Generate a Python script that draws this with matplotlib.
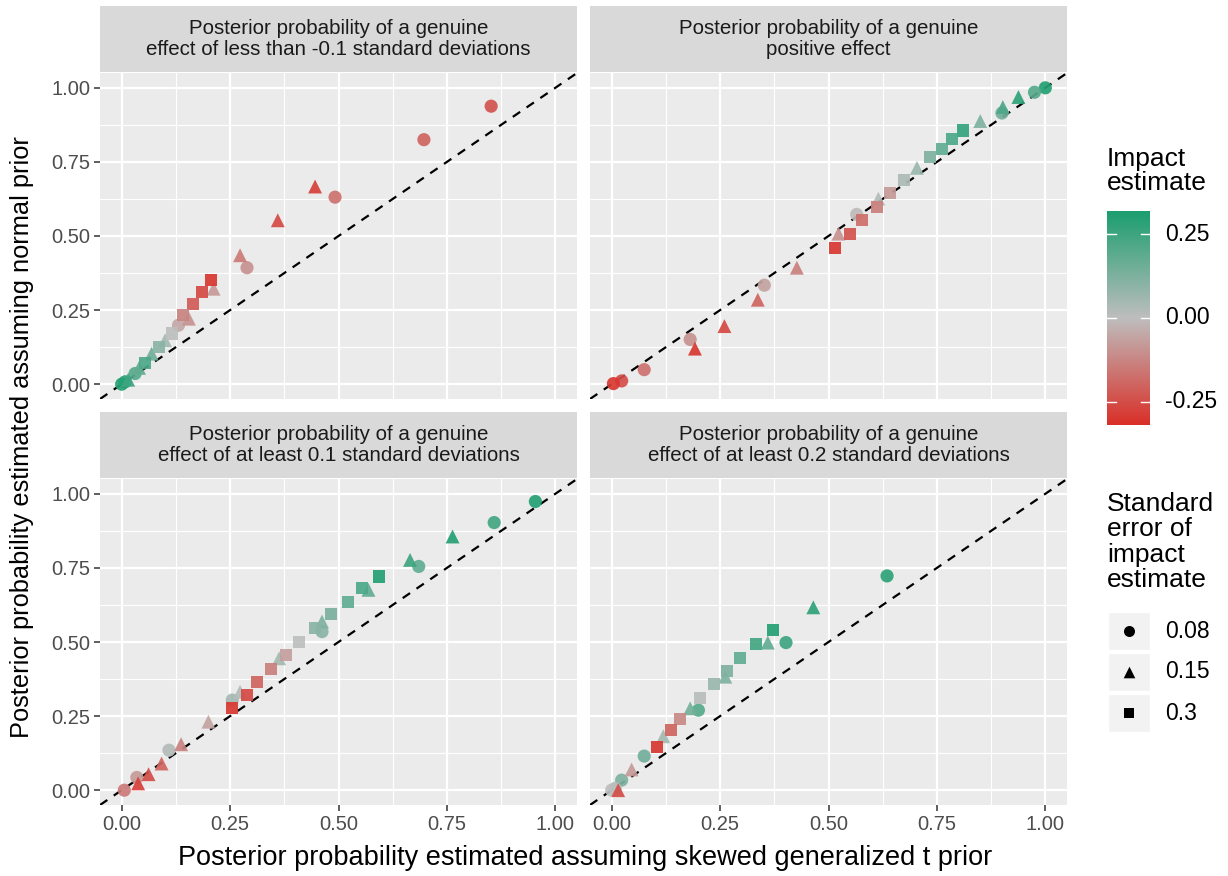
"""Posterior probabilities: normal prior vs skewed generalized t prior, four facets."""
import numpy as np
import matplotlib
matplotlib.use("Agg")
import matplotlib.pyplot as plt
from matplotlib.colors import LinearSegmentedColormap, Normalize
from matplotlib.patches import Rectangle

plt.rcParams["font.family"] = ["Liberation Sans", "DejaVu Sans"]

TITLES = [
    "Posterior probability of a genuine\neffect of less than -0.1 standard deviations",
    "Posterior probability of a genuine\npositive effect",
    "Posterior probability of a genuine\neffect of at least 0.1 standard deviations",
    "Posterior probability of a genuine\neffect of at least 0.2 standard deviations",
]

# panel 1: effect < -0.1 SD
p1_x = [0.852, 0.697, 0.446, 0.492, 0.360, 0.273, 0.289, 0.206, 0.212, 0.185, 0.165, 0.142,
        0.155, 0.131, 0.115, 0.100, 0.085, 0.069, 0.054, 0.040, 0.031, 0.015, 0.008, 0.000]
p1_y = [0.938, 0.825, 0.667, 0.631, 0.553, 0.435, 0.393, 0.351, 0.322, 0.311, 0.272, 0.233,
        0.221, 0.199, 0.171, 0.148, 0.126, 0.103, 0.070, 0.055, 0.036, 0.015, 0.008, 0.000]
p1_imp = [-0.24, -0.20, -0.28, -0.17, -0.26, -0.15, -0.10, -0.30, -0.08, -0.26, -0.22, -0.13,
          -0.10, -0.05, 0.00, 0.05, 0.10, 0.15, 0.22, 0.18, 0.20, 0.25, 0.28, 0.30]
p1_se = [0.08, 0.08, 0.15, 0.08, 0.15, 0.15, 0.08, 0.3, 0.15, 0.3, 0.3, 0.3,
         0.15, 0.08, 0.3, 0.15, 0.3, 0.15, 0.3, 0.15, 0.08, 0.15, 0.08, 0.08]

# panel 2: positive effect
p2_x = [1.000, 0.975, 0.938, 0.902, 0.900, 0.850, 0.810, 0.785, 0.762, 0.735, 0.704, 0.673,
        0.642, 0.615, 0.612, 0.565, 0.578, 0.523, 0.550, 0.515, 0.427, 0.352, 0.337, 0.260,
        0.181, 0.192, 0.075, 0.023, 0.004]
p2_y = [1.000, 0.985, 0.969, 0.935, 0.915, 0.888, 0.856, 0.828, 0.794, 0.766, 0.730, 0.690,
        0.645, 0.626, 0.598, 0.573, 0.553, 0.508, 0.508, 0.460, 0.393, 0.334, 0.285, 0.196,
        0.151, 0.120, 0.049, 0.011, 0.002]
p2_imp = [0.30, 0.20, 0.28, 0.22, 0.15, 0.12, 0.27, 0.22, 0.18, 0.12, 0.07, 0.03,
          -0.08, 0.02, -0.14, -0.01, -0.18, -0.10, -0.24, -0.30, -0.14, -0.06, -0.20, -0.26,
          -0.10, -0.30, -0.17, -0.25, -0.30]
p2_se = [0.08, 0.08, 0.15, 0.15, 0.08, 0.15, 0.3, 0.3, 0.3, 0.3, 0.15, 0.3,
         0.3, 0.15, 0.3, 0.08, 0.3, 0.15, 0.3, 0.3, 0.15, 0.08, 0.15, 0.15,
         0.08, 0.15, 0.08, 0.08, 0.08]

# panel 3: effect >= 0.1 SD
p3_x = [0.954, 0.859, 0.763, 0.665, 0.685, 0.594, 0.554, 0.569, 0.521, 0.482, 0.462, 0.462,
        0.446, 0.409, 0.378, 0.363, 0.344, 0.313, 0.273, 0.288, 0.255, 0.255, 0.200, 0.137,
        0.109, 0.092, 0.062, 0.035, 0.038, 0.006]
p3_y = [0.974, 0.903, 0.856, 0.777, 0.755, 0.721, 0.681, 0.676, 0.636, 0.595, 0.569, 0.535,
        0.546, 0.501, 0.455, 0.445, 0.409, 0.366, 0.332, 0.321, 0.304, 0.276, 0.231, 0.155,
        0.135, 0.090, 0.054, 0.043, 0.023, 0.000]
p3_imp = [0.30, 0.24, 0.30, 0.25, 0.18, 0.30, 0.22, 0.18, 0.18, 0.13, 0.12, 0.10,
          0.10, 0.00, -0.07, 0.05, -0.14, -0.20, 0.02, -0.26, 0.05, -0.30, -0.06, -0.13,
          0.02, -0.20, -0.25, -0.08, -0.28, -0.15]
p3_se = [0.08, 0.08, 0.15, 0.15, 0.08, 0.3, 0.3, 0.15, 0.3, 0.3, 0.15, 0.08,
         0.3, 0.3, 0.3, 0.15, 0.3, 0.3, 0.15, 0.3, 0.08, 0.3, 0.15, 0.15,
         0.08, 0.15, 0.15, 0.08, 0.15, 0.08]

# panel 4: effect >= 0.2 SD
p4_x = [0.635, 0.465, 0.371, 0.402, 0.360, 0.332, 0.296, 0.265, 0.262, 0.237, 0.204, 0.200,
        0.181, 0.158, 0.137, 0.119, 0.104, 0.075, 0.046, 0.023, 0.008, 0.015, 0.000]
p4_y = [0.723, 0.617, 0.541, 0.498, 0.498, 0.494, 0.446, 0.403, 0.383, 0.358, 0.312, 0.270,
        0.276, 0.239, 0.203, 0.182, 0.146, 0.115, 0.070, 0.034, 0.006, 0.000, 0.000]
p4_imp = [0.28, 0.28, 0.30, 0.25, 0.18, 0.24, 0.18, 0.12, 0.12, 0.07, 0.01, 0.20,
          0.14, -0.12, -0.20, 0.05, -0.30, 0.15, -0.08, 0.12, 0.02, -0.25, 0.00]
p4_se = [0.08, 0.15, 0.3, 0.08, 0.15, 0.3, 0.3, 0.3, 0.15, 0.3, 0.3, 0.08,
         0.15, 0.3, 0.3, 0.15, 0.3, 0.08, 0.15, 0.08, 0.08, 0.15, 0.08]

PANELS = [(p1_x, p1_y, p1_imp, p1_se), (p2_x, p2_y, p2_imp, p2_se),
          (p3_x, p3_y, p3_imp, p3_se), (p4_x, p4_y, p4_imp, p4_se)]
SE_LEVELS = [0.08, 0.15, 0.3]
SE_MARKERS = {0.08: ("o", 90), 0.15: ("^", 100), 0.3: ("s", 75)}
TICKS = [0, 0.25, 0.5, 0.75, 1.0]
TICKLAB = ["0.00", "0.25", "0.50", "0.75", "1.00"]
CB_TICKS = [0.25, 0.0, -0.25]

cmap = LinearSegmentedColormap.from_list("rg", ["#DA2F28", "#BEBEBE", "#1B9E70"])
norm = Normalize(-0.32, 0.32)

W, H = 1228, 876
fig = plt.figure(figsize=(W / 100, H / 100), dpi=100)

def fx(px):
    return px / W

def fy(py):
    return 1 - py / H

lefts = [100, 590]
tops = [73, 479]
pw, ph = 477, 326
strip_h = 66

for i, (xs, ys, imp, se) in enumerate(PANELS):
    r, c = divmod(i, 2)
    L, T = lefts[c], tops[r]
    ax = fig.add_axes([fx(L), fy(T + ph), pw / W, ph / H])
    ax.set_facecolor("#EBEBEB")
    ax.set_xlim(-0.05, 1.05)
    ax.set_ylim(-0.05, 1.05)
    for v in [0.125, 0.375, 0.625, 0.875]:
        ax.axvline(v, color="white", lw=0.8, zorder=0)
        ax.axhline(v, color="white", lw=0.8, zorder=0)
    for v in TICKS:
        ax.axvline(v, color="white", lw=1.6, zorder=0)
        ax.axhline(v, color="white", lw=1.6, zorder=0)
    ax.plot([-0.05, 1.05], [-0.05, 1.05], color="black", lw=1.6, ls=(0, (4, 3.5)), zorder=1)
    xs, ys, imp, se = map(np.asarray, (xs, ys, imp, se))
    for lev in SE_LEVELS:
        m = np.isclose(se, lev)
        mk, s = SE_MARKERS[lev]
        ax.scatter(xs[m], ys[m], c=imp[m], cmap=cmap, norm=norm, marker=mk, s=s,
                   linewidths=0, alpha=0.92, zorder=2)
    for sp in ax.spines.values():
        sp.set_visible(False)
    ax.set_xticks(TICKS)
    ax.set_yticks(TICKS)
    ax.tick_params(length=4, width=1.1, color="#333333", labelcolor="#4D4D4D",
                   labelsize=14.5, pad=3)
    ax.set_xticklabels(TICKLAB if r == 1 else [])
    ax.set_yticklabels(TICKLAB if c == 0 else [])
    if r == 0:
        ax.tick_params(axis="x", length=0)
    if c == 1:
        ax.tick_params(axis="y", length=0)
    # facet strip
    sax = fig.add_axes([fx(L), fy(T - 1), pw / W, strip_h / H])
    sax.set_facecolor("#D9D9D9")
    sax.set_xticks([]); sax.set_yticks([])
    for sp in sax.spines.values():
        sp.set_visible(False)
    sax.text(0.5, 0.5, TITLES[i], ha="center", va="center", fontsize=14.8,
             color="#1A1A1A", linespacing=1.15, transform=sax.transAxes)

fig.text(fx(585), fy(858), "Posterior probability estimated assuming skewed generalized t prior",
         ha="center", va="center", fontsize=19.5, color="black")
fig.text(fx(22), fy(437), "Posterior probability estimated assuming normal prior",
         ha="center", va="center", rotation=90, fontsize=18.3, color="black")

# colour legend
fig.text(fx(1107), fy(171), "Impact\nestimate", ha="left", va="center", fontsize=19,
         linespacing=1.0)
cax = fig.add_axes([fx(1107), fy(425), 43 / W, 214 / H])
grad = np.linspace(-0.32, 0.32, 256).reshape(-1, 1)
cax.imshow(grad, cmap=cmap, norm=norm, aspect="auto", origin="lower",
           extent=[0, 1, -0.32, 0.32])
cax.set_xlim(0, 1); cax.set_ylim(-0.32, 0.32)
for t in CB_TICKS:
    cax.plot([0, 0.2], [t, t], color="white", lw=1)
    cax.plot([0.8, 1], [t, t], color="white", lw=1)
    cax.text(1.35, t, f"{t:.2f}", ha="left", va="center", fontsize=16.5, color="black",
             transform=cax.transData, clip_on=False)
cax.set_xticks([]); cax.set_yticks([])
for sp in cax.spines.values():
    sp.set_visible(False)

# shape legend
fig.text(fx(1107), fy(542), "Standard\nerror of\nimpact\nestimate", ha="left", va="center",
         fontsize=19, linespacing=1.08)
lax = fig.add_axes([fx(1107), fy(735), 120 / W, 125 / H])
lax.set_xlim(0, 120); lax.set_ylim(0, 125)
lax.axis("off")
for k, lev in enumerate(SE_LEVELS):
    yc = 125 - 21 - k * 41
    lax.add_patch(Rectangle((1, yc - 19), 42, 38, facecolor="#F2F2F2", edgecolor="white", lw=1))
    mk, s = SE_MARKERS[lev]
    lax.scatter([22], [yc], marker=mk, s=s * 0.7, color="black", linewidths=0)
    lax.text(58, yc, f"{lev:g}", ha="left", va="center", fontsize=16.5)

fig.savefig("out.png", dpi=100)
